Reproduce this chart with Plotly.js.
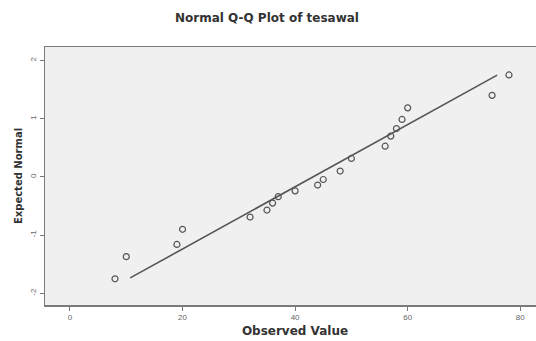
<!DOCTYPE html>
<html>
<head>
<meta charset="utf-8">
<script src="https://cdn.plot.ly/plotly-3.0.1.min.js"></script>
<style>html,body{margin:0;padding:0;overflow:hidden;background:#fff;}#chart{width:545px;height:341px;}</style>
</head>
<body>
<div id="chart"></div>
<script>
const observed = [8, 10, 19, 20, 32, 35, 36, 37, 40, 44, 45, 48, 50, 56, 57, 58, 59, 60, 75, 78];
const expectedNormal = [-1.75, -1.37, -1.16, -0.90, -0.69, -0.57, -0.45, -0.34, -0.24, -0.14, -0.045, 0.10, 0.316, 0.527, 0.70, 0.83, 0.986, 1.185, 1.40, 1.75];
const lineX = [10.7, 75.9];
const lineY = [-1.735, 1.747];
const xTicks = [0, 20, 40, 60, 80];
const yTicks = [-2, -1, 0, 1, 2];

const traces = [
  {x: lineX, y: lineY, mode: 'lines', type: 'scatter',
   line: {color: '#555555', width: 1.6}, hoverinfo: 'skip'},
  {x: observed, y: expectedNormal, mode: 'markers', type: 'scatter',
   marker: {symbol: 'circle-open', size: 6, color: '#555555', line: {width: 1.2, color: '#555555'}}}
];

const axisCommon = {
  showgrid: false, zeroline: false, showline: true, mirror: true,
  linecolor: '#7a7a7a', linewidth: 1.5, ticks: 'outside', ticklen: 4,
  tickcolor: '#777', tickfont: {family: 'Arial, Liberation Sans, sans-serif', size: 8, color: '#666'}
};
const titleFont = 'DejaVu Sans, Verdana, sans-serif';

const layout = {
  width: 545, height: 341,
  margin: {l: 45, r: 0, t: 47, b: 36},
  paper_bgcolor: '#ffffff', plot_bgcolor: '#f0f0f0',
  showlegend: false,
  title: {text: '<b>Normal Q-Q Plot of tesawal</b>', x: 267 / 545, xanchor: 'center', xref: 'container', y: 0.948, yanchor: 'middle',
          font: {family: titleFont, size: 12, color: '#333'}},
  xaxis: Object.assign({}, axisCommon, {
    range: [-4.44, 84.4], tickvals: xTicks, ticktext: xTicks.map(String),
    title: {text: '<b>Observed Value</b>', standoff: 5,
            font: {family: titleFont, size: 12, color: '#333'}}
  }),
  yaxis: Object.assign({}, axisCommon, {
    range: [-2.2, 2.23], tickvals: yTicks, ticktext: yTicks.map(String), tickangle: -90,
    title: {text: '<b>Expected Normal</b>', standoff: 5,
            font: {family: titleFont, size: 10, color: '#333'}}
  })
};

Plotly.newPlot('chart', traces, layout, {displayModeBar: false, staticPlot: true});
</script>
</body>
</html>
